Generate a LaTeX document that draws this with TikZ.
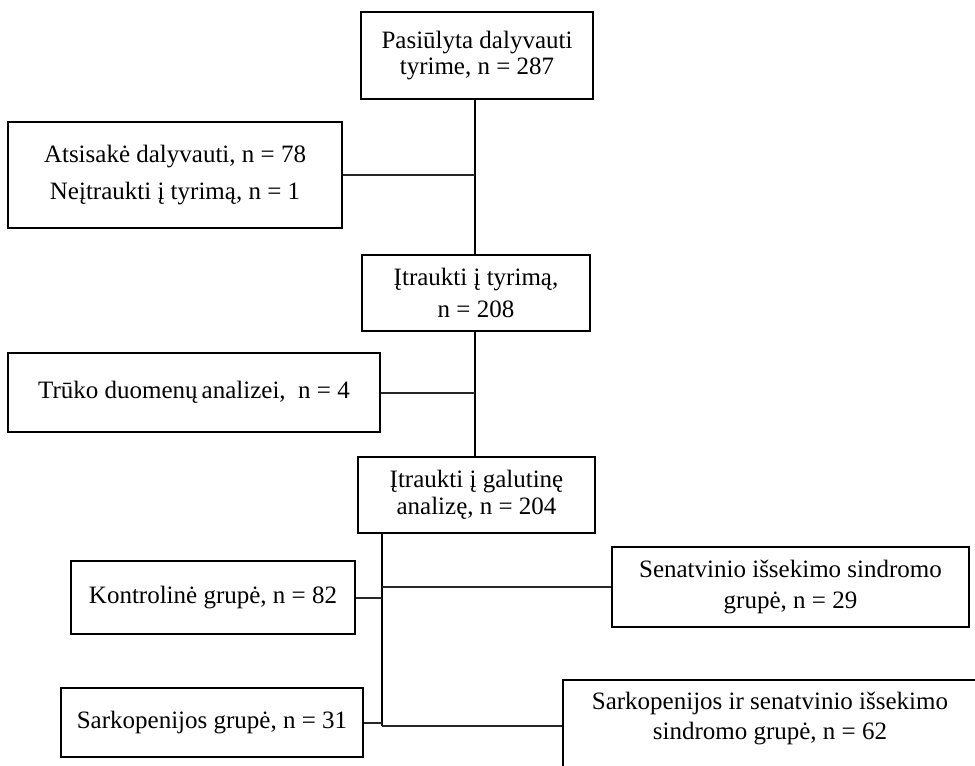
\documentclass[tikz,border=0pt]{standalone}
\usepackage{fontspec}
\setmainfont{Liberation Serif}
\begin{document}
\begin{tikzpicture}[x=1pt,y=1pt,
  box/.style={draw=black, line width=2pt, inner sep=0pt, align=center,
    font=\fontsize{25}{29}\selectfont},
  trunk/.style={draw=black, line width=2.6pt},
  branch/.style={draw=black!85, line width=2pt}]
\useasboundingbox (0,0) rectangle (975,-766);

% flow boxes
\node[box, minimum width=232, minimum height=87, font=\fontsize{25}{26}\selectfont]
  (b1) at (477,-55.5) {Pasiūlyta dalyvauti\\tyrime, n = 287};
\node[box, minimum width=334, minimum height=106, font=\fontsize{25}{37}\selectfont]
  (b2) at (175,-175) {Atsisakė dalyvauti, n = 78\\Neįtraukti į tyrimą, n = 1};
\node[box, minimum width=228, minimum height=76, font=\fontsize{25}{32}\selectfont]
  (b3) at (476,-293) {Įtraukti į tyrimą,\\n = 208};
\node[box, minimum width=372, minimum height=79]
  (b4) at (194,-392.5) {Trūko duomenų\hspace{4pt}analizei, \ n = 4};
\node[box, minimum width=237, minimum height=76, font=\fontsize{25}{27}\selectfont]
  (b5) at (476.5,-495) {Įtraukti į galutinę\\analizę, n = 204};
\node[box, minimum width=284, minimum height=73]
  (b6) at (213,-597.5) {Kontrolinė grupė, n = 82};
\node[box, minimum width=357, minimum height=80, font=\fontsize{25}{31}\selectfont]
  (b7) at (790.5,-587) {Senatvinio išsekimo sindromo\\grupė, n = 29};
\node[box, minimum width=302, minimum height=69]
  (b8) at (212,-722.5) {Sarkopenijos grupė, n = 31};
\node[box, minimum width=419, minimum height=92]
  (b9) at (772.5,-726) {};
\node[box, draw=none, font=\fontsize{25}{30}\selectfont]
  (b9t) at (770,-718) {Sarkopenijos ir senatvinio išsekimo\\sindromo grupė, n = 62};

% trunk positions
\coordinate (ta) at (475,0);
\coordinate (tb) at (382,0);
\coordinate (tbend) at (382,-726);

% main trunk
\draw[trunk] (b1.south -| ta) -- (b3.north -| ta);
\draw[trunk] (b3.south -| ta) -- (b5.north -| ta);
\draw[trunk] (b5.south -| tb) -- (tbend);
\draw[branch] (tbend) -- (b9.west);

% side branches
\draw[branch] (b2.east) -- (b2.east -| ta);
\draw[branch] (b4.east) -- (b4.east -| ta);
\draw[branch] (b6.east) -- (b6.east -| tb);
\draw[branch] (b7.west -| tb) -- (b7.west);
\draw[branch] (b8.east) -- (b8.east -| tb);
\end{tikzpicture}
\end{document}
